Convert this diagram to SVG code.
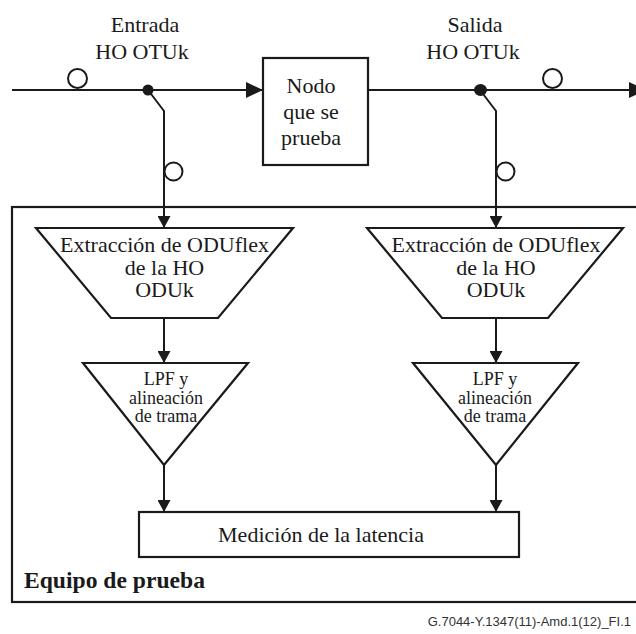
<svg xmlns="http://www.w3.org/2000/svg" width="636" height="634" viewBox="0 0 636 634">
<style>
.ln{fill:none;stroke:#1a1a1a;stroke-width:2}
.bx{fill:#fff;stroke:#1a1a1a;stroke-width:2.2}
text.t{font-family:'Liberation Serif','DejaVu Serif',serif;font-size:22px;fill:#1a1a1a;text-anchor:middle}
text.s{font-size:18px}
text.b{font-weight:bold;text-anchor:start;font-size:23px}
text.f{font-family:'Liberation Sans','DejaVu Sans',sans-serif;font-size:13px;fill:#333;text-anchor:end}
.ring{fill:#fff;stroke:#1a1a1a;stroke-width:2}
</style>
<defs>
<marker id="ah" markerWidth="17" markerHeight="16" refX="17" refY="8" orient="auto" markerUnits="userSpaceOnUse"><path d="M0,0 L17,8 L0,16 z" fill="#1a1a1a"/></marker>
<marker id="av" markerWidth="12" markerHeight="13" refX="12" refY="6.5" orient="auto" markerUnits="userSpaceOnUse"><path d="M0,0 L12,6.5 L0,13 z" fill="#1a1a1a"/></marker>
</defs>

<g id="equipo">
<rect class="bx" x="12" y="207" width="640" height="395"/>
<text class="t b" font-family="Liberation Serif, serif" x="24" y="588" textLength="181" lengthAdjust="spacingAndGlyphs">Equipo de prueba</text>
</g>

<g id="connectors">
<path class="ln" d="M12,90 H263" marker-end="url(#ah)"/>
<path class="ln" d="M368,90 H646" marker-end="url(#ah)"/>
<path class="ln" d="M148,90 L164,111 V228" marker-end="url(#av)"/>
<path class="ln" d="M480,90 L496,111 V228" marker-end="url(#av)"/>
<path class="ln" d="M164,318 V363" marker-end="url(#av)"/>
<path class="ln" d="M496,318 V363" marker-end="url(#av)"/>
<path class="ln" d="M164,465 V512" marker-end="url(#av)"/>
<path class="ln" d="M496,465 V512" marker-end="url(#av)"/>
<circle cx="148" cy="90" r="5.5" fill="#1a1a1a"/>
<ellipse cx="480.5" cy="90" rx="6.5" ry="6" fill="#1a1a1a"/>
<circle class="ring" cx="77.5" cy="78.5" r="9.5"/>
<circle class="ring" cx="552.5" cy="78.5" r="9.5"/>
<circle class="ring" cx="173.5" cy="171.5" r="9"/>
<circle class="ring" cx="505.5" cy="171.5" r="9"/>
</g>

<g id="labels">
<text class="t" x="145" y="32">Entrada</text>
<text class="t" x="142" y="59">HO OTUk</text>
<text class="t" x="475" y="32">Salida</text>
<text class="t" x="473" y="59">HO OTUk</text>
</g>

<g id="nodo">
<rect class="bx" x="263" y="58" width="105" height="107"/>
<text class="t" x="311" y="93">Nodo</text>
<text class="t" x="311" y="119">que se</text>
<text class="t" x="311" y="145">prueba</text>
</g>

<g id="extraccion-entrada">
<polygon class="bx" points="36,228 293,228 218,318 111,318"/>
<text class="t" x="164.5" y="252">Extracción de ODUflex</text>
<text class="t" x="164.5" y="275">de la HO</text>
<text class="t" x="164.5" y="297">ODUk</text>
</g>

<g id="extraccion-salida">
<polygon class="bx" points="367,228 623,228 548,318 442,318"/>
<text class="t" x="496" y="252">Extracción de ODUflex</text>
<text class="t" x="496" y="275">de la HO</text>
<text class="t" x="496" y="297">ODUk</text>
</g>

<g id="lpf-entrada">
<polygon class="bx" points="83,363 248,363 164,465"/>
<text class="t s" x="166" y="385">LPF y</text>
<text class="t s" x="166" y="404">alineación</text>
<text class="t s" x="166" y="422">de trama</text>
</g>

<g id="lpf-salida">
<polygon class="bx" points="413,363 578,363 496,465"/>
<text class="t s" x="495" y="385">LPF y</text>
<text class="t s" x="495" y="404">alineación</text>
<text class="t s" x="495" y="422">de trama</text>
</g>

<g id="medicion">
<rect class="bx" x="139" y="512" width="380" height="45"/>
<text class="t" x="321" y="542">Medición de la latencia</text>
</g>

<text class="f" x="631" y="626">G.7044-Y.1347(11)-Amd.1(12)_FI.1</text>
</svg>
